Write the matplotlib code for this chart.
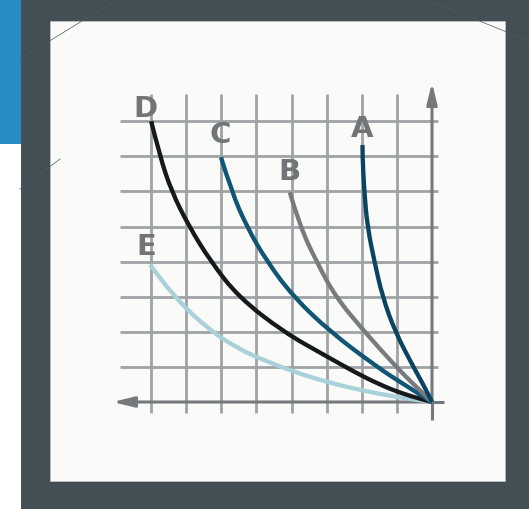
import matplotlib
matplotlib.use('agg')
import matplotlib.pyplot as plt
from matplotlib.patches import Rectangle, PathPatch
from matplotlib.path import Path

# curves: x is measured leftward from the vertical axis (the chart is mirrored)
a_x = [1.98, 1.98, 1.93, 1.84, 1.64, 1.41, 1.05, 0.53, 0.25, 0.0]
a_y = [7.32, 7.0, 6.0, 5.0, 4.0, 3.0, 2.0, 1.0, 0.5, 0.0]
b_x = [4.05, 3.76, 3.29, 2.75, 1.92, 1.02, 0.5, 0.0]
b_y = [5.97, 5.0, 4.0, 3.0, 2.0, 1.0, 0.48, 0.0]
c_x = [6.01, 5.71, 5.28, 4.7, 3.95, 2.9, 1.57, 0.8, 0.0]
c_y = [6.97, 6.0, 5.0, 4.0, 3.0, 2.0, 1.0, 0.5, 0.0]
d_x = [8.0, 7.75, 7.42, 6.92, 6.3, 5.52, 4.24, 3.0, 2.2, 1.5, 0.8, 0.0]
d_y = [8.0, 7.0, 6.0, 5.0, 4.0, 3.0, 2.0, 1.3, 0.85, 0.5, 0.22, 0.0]
e_x = [8.03, 7.37, 6.28, 5.47, 5.0, 4.0, 3.0, 2.0, 1.0, 0.0]
e_y = [3.91, 3.0, 2.0, 1.5, 1.28, 0.88, 0.57, 0.33, 0.14, 0.0]

labels = ['A', 'B', 'C', 'D', 'E']
label_x = [1.98, 4.07, 6.02, 8.15, 8.13]
label_y = [7.57, 6.35, 7.40, 8.16, 4.22]
colors = ['#0b4462', '#787b7e', '#105573', '#15191c', '#a8d1d9']
grid_pos = [1, 2, 3, 4, 5, 6, 7, 8]

W, H = 529, 510
fig = plt.figure(figsize=(W / 100, H / 100), dpi=100)
fig.patch.set_facecolor('#444e55')


def px_rect(x, y, w, h, color, z=0, **kw):
    fig.add_artist(Rectangle((x / W, 1 - (y + h) / H), w / W, h / H,
                             transform=fig.transFigure, facecolor=color,
                             zorder=z, **kw))


def px_line(x0, y0, x1, y1, **kw):
    fig.add_artist(plt.Line2D([x0 / W, x1 / W], [1 - y0 / H, 1 - y1 / H],
                              transform=fig.transFigure, **kw))


def smooth_path(xs, ys):
    # quadratic segments through the midpoints, read points act as controls
    pts = list(zip(xs, ys))
    verts = [pts[0]]
    codes = [Path.MOVETO]
    for i in range(1, len(pts) - 1):
        mid = ((pts[i][0] + pts[i + 1][0]) / 2, (pts[i][1] + pts[i + 1][1]) / 2)
        verts += [pts[i], mid]
        codes += [Path.CURVE3, Path.CURVE3]
    verts.append(pts[-1])
    codes.append(Path.LINETO)
    return Path(verts, codes)


# page pieces around the card
px_rect(0, 0, 20.5, 145, '#278cc3')
px_rect(0, 145, 20.5, 365, '#ffffff')
# faint network decoration in the dark band
deco = dict(color='#4d5a62', lw=0.5)
px_line(20, 60, 118, 0, **deco)
px_line(425, 0, 529, 42, **deco)
px_line(20, 190, 60, 160, **deco)
px_rect(50, 22, 455, 460, '#fafaf8', z=1, edgecolor='#b9bfc2', linewidth=0.6)

ax = fig.add_axes([98.5 / W, (H - 438.1) / H, 368.6 / W, 368.55 / H])
ax.set_xlim(9.5, -1)
ax.set_ylim(-1, 9.5)
ax.axis('off')
ax.set_facecolor('none')
ax.set_zorder(2)

grid_color = '#a0a3a5'
axis_color = '#76797c'
for g in grid_pos:
    ax.plot([g, g], [-0.3, 8.77], color=grid_color, lw=2.0, zorder=1,
            solid_capstyle='butt')
    ax.plot([-0.18, 8.88], [g, g], color=grid_color, lw=2.0, zorder=1,
            solid_capstyle='butt')

ax.plot([0, 0], [-0.5, 0], color=axis_color, lw=2.2, zorder=2,
        solid_capstyle='butt')
ax.plot([-0.35, 0], [0, 0], color=axis_color, lw=2.2, zorder=2,
        solid_capstyle='butt')
arrow = dict(arrowstyle='-|>,head_length=0.9,head_width=0.22', color=axis_color,
             lw=2.2, mutation_scale=14, shrinkA=0, shrinkB=0)
ax.annotate('', xy=(9.1, 0), xytext=(0, 0), arrowprops=arrow, zorder=2)
ax.annotate('', xy=(0, 9.1), xytext=(0, 0), arrowprops=arrow, zorder=2)

curves = [(a_x, a_y), (b_x, b_y), (c_x, c_y), (d_x, d_y), (e_x, e_y)]
# draw E first so the darker curves sit on top near the origin
for i in [4, 3, 2, 1, 0]:
    xs, ys = curves[i]
    ax.add_patch(PathPatch(smooth_path(xs, ys), facecolor='none',
                           edgecolor=colors[i], lw=3.1, zorder=3,
                           capstyle='butt', joinstyle='round'))

for lab, lx, ly in zip(labels, label_x, label_y):
    ax.text(lx, ly, lab, ha='center', va='baseline', fontsize=21,
            fontweight='bold', color='#727577', family='DejaVu Sans', zorder=4)

fig.savefig('out.png', dpi=100, facecolor=fig.get_facecolor())
